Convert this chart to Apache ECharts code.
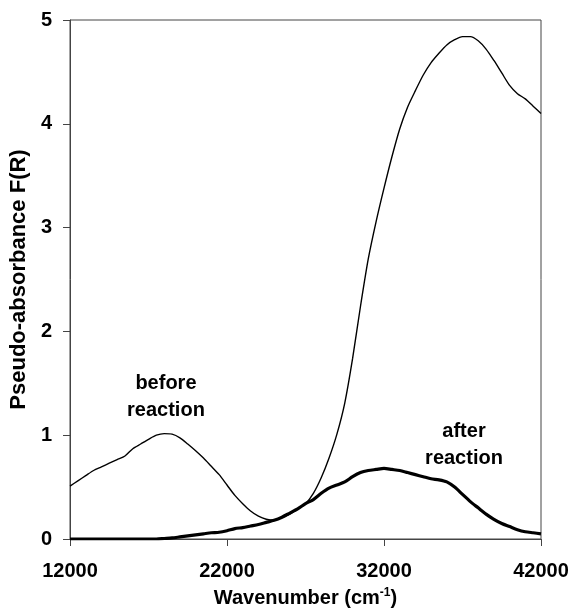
<!DOCTYPE html>
<html>
<head>
<meta charset="utf-8">
<script src="https://cdn.jsdelivr.net/npm/echarts@6/dist/echarts.min.js"></script>
<style>
  html, body { margin: 0; padding: 0; background: #fff; }
  #chart { width: 573px; height: 613px; }
</style>
</head>
<body>
<div id="chart"></div>
<script>
// Wavenumber grid (cm^-1) shared by both spectra
const wavenumber = [12000, 12500, 13000, 13500, 14000, 14500, 15000, 15500, 16000, 16500,
  17000, 17500, 18000, 18500, 19000, 19500, 20000, 20500, 21000, 21500,
  22000, 22500, 23000, 23500, 24000, 24500, 25000, 25500, 26000, 26500,
  27000, 27500, 28000, 28500, 29000, 29500, 30000, 30500, 31000, 31500,
  32000, 32500, 33000, 33500, 34000, 34500, 35000, 35500, 36000, 36500,
  37000, 37500, 38000, 38500, 39000, 39500, 40000, 40500, 41000, 41500, 42000];

// Pseudo-absorbance F(R) before reaction
const beforeReaction = [0.51, 0.56, 0.61, 0.66, 0.695, 0.73, 0.765, 0.80, 0.87, 0.915,
  0.96, 1.00, 1.015, 1.01, 0.975, 0.915, 0.85, 0.78, 0.70, 0.62,
  0.52, 0.42, 0.34, 0.27, 0.22, 0.19, 0.18, 0.21, 0.24, 0.29,
  0.34, 0.44, 0.59, 0.78, 1.01, 1.31, 1.74, 2.24, 2.70, 3.06,
  3.38, 3.68, 3.95, 4.16, 4.32, 4.47, 4.59, 4.68, 4.76, 4.81,
  4.84, 4.84, 4.80, 4.72, 4.61, 4.49, 4.37, 4.29, 4.24, 4.17, 4.10];

// Pseudo-absorbance F(R) after reaction
const afterReaction = [0.00, 0.00, 0.00, 0.00, 0.00, 0.00, 0.00, 0.00, 0.00, 0.00,
  0.00, 0.00, 0.005, 0.01, 0.02, 0.03, 0.04, 0.05, 0.06, 0.065,
  0.08, 0.10, 0.11, 0.125, 0.14, 0.16, 0.18, 0.21, 0.25, 0.29,
  0.34, 0.38, 0.44, 0.49, 0.52, 0.55, 0.60, 0.64, 0.66, 0.67,
  0.68, 0.67, 0.66, 0.64, 0.62, 0.60, 0.58, 0.57, 0.55, 0.50,
  0.43, 0.36, 0.30, 0.24, 0.19, 0.15, 0.12, 0.09, 0.07, 0.06, 0.05];

// Curve annotations (anchored in data coordinates)
const noteText = ['before\nreaction', 'after\nreaction'];
const noteX = [18110, 37095];
const noteY = [1.37, 0.91];

const FONT = '"Liberation Sans", Arial, sans-serif';

const pairs = (xs, ys) => xs.map((x, i) => [x, ys[i]]);

const chart = echarts.init(document.getElementById('chart'), null, { renderer: 'canvas' });

chart.setOption({
  animation: false,
  backgroundColor: '#ffffff',
  grid: {
    left: 67, right: 32, top: 20, bottom: 73,
    show: true, borderColor: '#444', borderWidth: 1, backgroundColor: 'transparent'
  },
  xAxis: {
    type: 'value',
    min: 12000, max: 42000, interval: 10000,
    name: 'Wavenumber (cm{sup|-1})',
    nameLocation: 'middle',
    nameGap: 48,
    nameTextStyle: {
      fontFamily: FONT, fontWeight: 'bold', fontSize: 20, color: '#000',
      rich: {
        sup: { fontFamily: FONT, fontWeight: 'bold', fontSize: 12, color: '#000', padding: [0, 0, 10, 0] }
      }
    },
    axisLine: { show: true, onZero: false, lineStyle: { color: '#444', width: 1 } },
    axisTick: { show: true, inside: false, length: 7, lineStyle: { color: '#444' } },
    axisLabel: {
      margin: 22, fontFamily: FONT, fontWeight: 'bold', fontSize: 20, color: '#000',
      formatter: v => String(v)
    },
    splitLine: { show: false }
  },
  yAxis: {
    type: 'value',
    min: 0, max: 5, interval: 1,
    name: 'Pseudo-absorbance F(R)',
    nameLocation: 'middle',
    nameGap: 40,
    nameTextStyle: { fontFamily: FONT, fontWeight: 'bold', fontSize: 22, color: '#000' },
    axisLine: { show: true, lineStyle: { color: '#444', width: 1 } },
    axisTick: { show: true, inside: false, length: 7, lineStyle: { color: '#444' } },
    axisLabel: { margin: 18, fontFamily: FONT, fontWeight: 'bold', fontSize: 20, color: '#000' },
    splitLine: { show: false }
  },
  series: [
    {
      name: 'before reaction',
      type: 'line',
      data: pairs(wavenumber, beforeReaction),
      smooth: 0.25,
      showSymbol: false,
      lineStyle: { color: '#000', width: 1.4 },
      z: 3
    },
    {
      name: 'after reaction',
      type: 'line',
      data: pairs(wavenumber, afterReaction),
      smooth: 0.25,
      showSymbol: false,
      lineStyle: { color: '#000', width: 3.2 },
      z: 2
    },
    {
      name: 'notes',
      type: 'scatter',
      symbolSize: 0,
      itemStyle: { opacity: 1 },
      data: noteText.map((t, i) => ({ name: t, value: [noteX[i], noteY[i]] })),
      label: {
        show: true,
        position: 'inside',
        formatter: p => p.name,
        fontFamily: FONT, fontWeight: 'bold', fontSize: 20, color: '#000',
        textBorderWidth: 0, opacity: 1,
        lineHeight: 27, align: 'center', verticalAlign: 'middle'
      },
      silent: true,
      z: 4
    }
  ]
});
</script>
</body>
</html>
